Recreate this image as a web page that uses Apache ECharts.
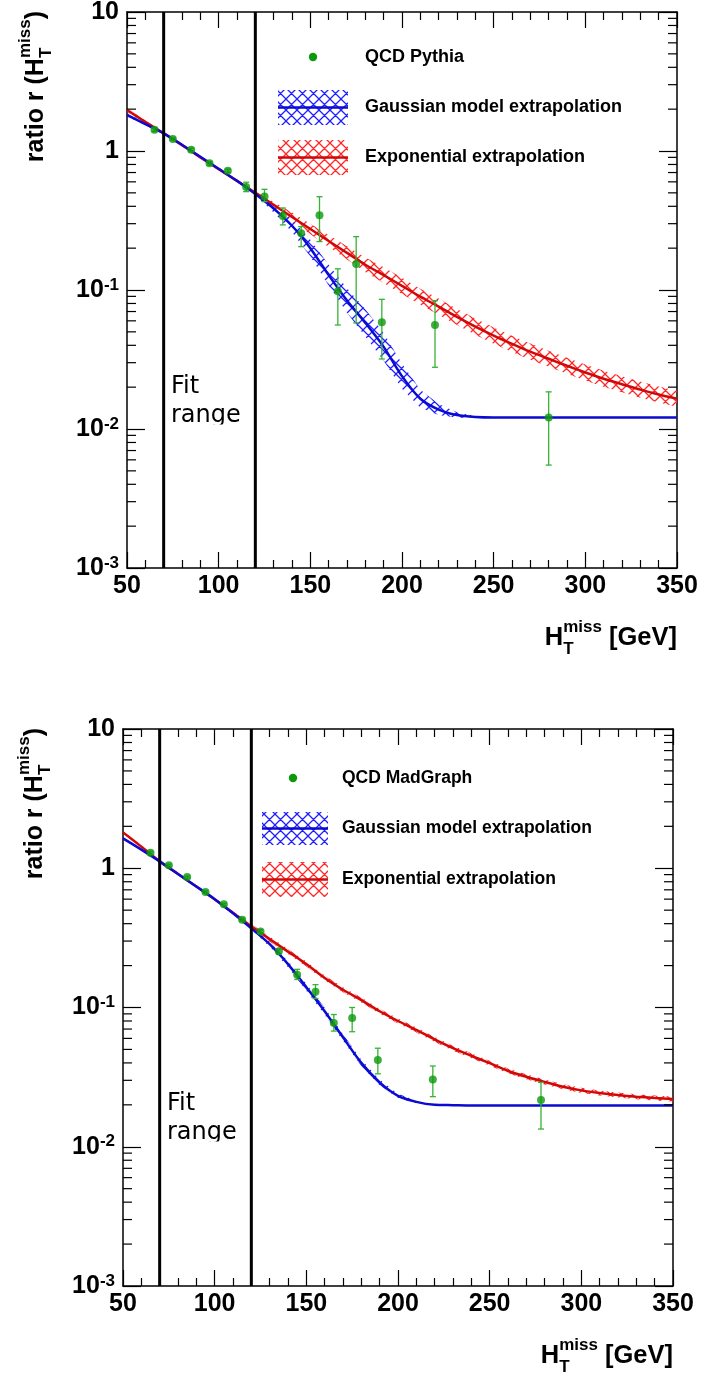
<!DOCTYPE html>
<html><head><meta charset="utf-8">
<script src="https://cdn.jsdelivr.net/npm/echarts@6/dist/echarts.min.js"></script>
<style>html,body{margin:0;padding:0;background:#fff}#c{width:701px;height:1378px}</style>
</head><body><div id="c"></div>
<script>
// ================= DATA =================
const curveX = [50,60,70,80,90,100,110,120,130,140,150,160,170,180,190,200,210,220,230,240,250,260,270,280,290,300,310,320,330,340,350];
const fitRange = [70, 120];

// ---- Panel 1: QCD Pythia ----
const pythiaX  = [65,75,85,95,105,115,125,135,145,155,165,175,189,218,280];
const pythiaY  = [1.42,1.22,1.02,0.815,0.72,0.55,0.47,0.34,0.256,0.345,0.098,0.154,0.0586,0.056,0.0121];
const pythiaLo = [1.38,1.19,0.99,0.79,0.70,0.51,0.432,0.294,0.205,0.223,0.056,0.058,0.0319,0.0278,0.0055];
const pythiaHi = [1.46,1.25,1.05,0.84,0.74,0.596,0.53,0.389,0.286,0.469,0.142,0.242,0.0857,0.0838,0.0185];
const pythiaExp = [1.97,1.62,1.34,1.10,0.90,0.74,0.61,0.50,0.41,0.335,0.275,0.225,0.185,0.152,0.128,0.107,0.0895,0.076,0.064,0.0545,0.047,0.041,0.036,0.032,0.0285,0.0255,0.023,0.021,0.0192,0.0177,0.0165];
const pythiaExpBand = [0.015,0.01,0.008,0.008,0.008,0.008,0.008,0.01,0.022,0.032,0.038,0.043,0.048,0.052,0.056,0.058,0.058,0.058,0.058,0.058,0.058,0.058,0.058,0.058,0.058,0.058,0.058,0.058,0.058,0.058,0.058];
const pythiaGaus = [1.82,1.56,1.34,1.11,0.91,0.745,0.61,0.49,0.385,0.29,0.20,0.128,0.084,0.058,0.039,0.024,0.0165,0.0138,0.0126,0.0122,0.0121,0.0121,0.0121,0.0121,0.0121,0.0121,0.0121,0.0121,0.0121,0.0121,0.0121];
const pythiaGausBand = [0.012,0.008,0.006,0.006,0.006,0.006,0.006,0.01,0.028,0.045,0.06,0.075,0.088,0.098,0.1,0.09,0.065,0.04,0.02,0.006,0,0,0,0,0,0,0,0,0,0,0];

// ---- Panel 2: QCD MadGraph ----
const madX  = [65,75,85,95,105,115,125,135,145,155,165,175,189,219,278];
const madY  = [1.29,1.05,0.866,0.675,0.551,0.427,0.352,0.253,0.172,0.130,0.0775,0.084,0.042,0.0304,0.0217];
const madLo = [1.26,1.03,0.85,0.66,0.54,0.417,0.342,0.243,0.159,0.116,0.0677,0.067,0.0334,0.0229,0.0134];
const madHi = [1.32,1.07,0.88,0.69,0.56,0.437,0.362,0.263,0.188,0.146,0.089,0.100,0.051,0.038,0.029];
const madExp = [1.81,1.43,1.12,0.91,0.74,0.60,0.48,0.383,0.31,0.252,0.205,0.163,0.134,0.113,0.094,0.080,0.069,0.059,0.051,0.045,0.0398,0.035,0.0318,0.0292,0.027,0.0254,0.0243,0.0235,0.0229,0.0224,0.0220];
const madExpBand = [0.006,0.006,0.006,0.006,0.006,0.006,0.008,0.016,0.018,0.018,0.018,0.018,0.018,0.018,0.018,0.018,0.018,0.018,0.018,0.018,0.018,0.018,0.018,0.018,0.018,0.018,0.018,0.018,0.018,0.018,0.018];
const madGaus = [1.64,1.36,1.12,0.91,0.74,0.60,0.475,0.37,0.285,0.205,0.14,0.094,0.061,0.040,0.029,0.0232,0.021,0.020,0.0199,0.0198,0.0198,0.0198,0.0198,0.0198,0.0198,0.0198,0.0198,0.0198,0.0198,0.0198,0.0198];
const madGausBand = [0.006,0.006,0.006,0.006,0.006,0.006,0.006,0.008,0.018,0.022,0.025,0.025,0.025,0.022,0.02,0.016,0.01,0,0,0,0,0,0,0,0,0,0,0,0,0,0];

const legendTop = ['QCD Pythia', 'Gaussian model extrapolation', 'Exponential extrapolation'];
const legendBot = ['QCD MadGraph', 'Gaussian model extrapolation', 'Exponential extrapolation'];

// ================= STYLE / HELPERS =================
const FONT = '"Liberation Sans", Arial, sans-serif';
const GREEN = '#0c990c', GREEN_ERR = '#36b236';
const BLUE = '#0a0ad0', BLUE_H = '#2020ff';
const RED = '#d00808', RED_H = '#ff2828';
const mctx = document.createElement('canvas').getContext('2d');
function tw(s, fs) { mctx.font = 'bold ' + fs + 'px ' + FONT; return mctx.measureText(s).width; }
function hatch(color) {
  const n = 11;
  const c = document.createElement('canvas'); c.width = n; c.height = n;
  const g = c.getContext('2d'); g.strokeStyle = color; g.lineWidth = 1.3;
  g.beginPath();
  for (let k = -1; k <= 1; k++) {
    g.moveTo(k * n, 0); g.lineTo(k * n + n, n);
    g.moveTo(k * n + n, 0); g.lineTo(k * n, n);
  }
  g.stroke();
  return { image: c, repeat: 'repeat' };
}
const minorVals = [];
for (let e = -3; e <= 0; e++) for (let m = 2; m <= 9; m++) minorVals.push(m * Math.pow(10, e));

function xAx(gi, pos, labels) {
  return { type: 'value', gridIndex: gi, position: pos, min: 50, max: 350, interval: 50,
    axisLine: { show: true, onZero: false, lineStyle: { color: '#000', width: 1.5 } },
    axisTick: { show: true, inside: true, length: 16, lineStyle: { color: '#000', width: 1.2 } },
    minorTick: { show: true, splitNumber: 5, length: 8, lineStyle: { color: '#000', width: 1.2 } },
    splitLine: { show: false }, minorSplitLine: { show: false },
    axisLabel: { show: labels, margin: 6, color: '#000', fontSize: 25, fontWeight: 'bold', fontFamily: FONT, showMinLabel: true, showMaxLabel: true }
  };
}
function yAx(gi, pos, labels) {
  return { type: 'log', logBase: 10, gridIndex: gi, position: pos, min: 0.001, max: 10,
    axisLine: { show: true, onZero: false, lineStyle: { color: '#000', width: 1.5 } },
    axisTick: { show: true, inside: true, length: 18, lineStyle: { color: '#000', width: 1.2 } },
    splitLine: { show: false },
    axisLabel: { show: labels, margin: 8, color: '#000', fontSize: 25, fontWeight: 'bold', fontFamily: FONT,
      showMinLabel: true, showMaxLabel: true,
      formatter: v => { const e = Math.round(Math.log10(v)); return e === 0 ? '1' : (e === 1 ? '10' : '10{s|' + e + '}'); },
      rich: { s: { fontSize: 17, fontWeight: 'bold', fontFamily: FONT, color: '#000', verticalAlign: 'top', padding: [0, 0, 10, 0] } } }
  };
}
function bandSeries(ai, xs, ys, hw, color, z) {
  const pts = xs.map((x, i) => [x, ys[i], hw[i]]).filter(p => p[2] > 0);
  const fill = hatch(color);
  return { type: 'custom', xAxisIndex: ai * 2, yAxisIndex: ai * 2, z, silent: true, data: pts,
    renderItem(params, api) {
      if (params.dataIndex !== 0) return;
      const up = pts.map(p => api.coord([p[0], p[1] * Math.pow(10, p[2])]));
      const lo = pts.map(p => api.coord([p[0], p[1] / Math.pow(10, p[2])])).reverse();
      return { type: 'polygon', shape: { points: up.concat(lo) }, style: { fill: fill, stroke: null } };
    } };
}
function lineSeries(ai, xs, ys, color) {
  return { type: 'line', xAxisIndex: ai * 2, yAxisIndex: ai * 2, z: 3, silent: true, data: xs.map((x, i) => [x, ys[i]]),
    symbol: 'none', smooth: 0.25, lineStyle: { color, width: 2.5 } };
}
function fitLines(ai) {
  return { type: 'custom', xAxisIndex: ai * 2, yAxisIndex: ai * 2, z: 4, silent: true, data: fitRange.map(v => [v, 1]),
    renderItem(params, api) {
      const cs = params.coordSys; const x = api.coord([api.value(0), 1])[0];
      return { type: 'line', shape: { x1: x, y1: cs.y, x2: x, y2: cs.y + cs.height }, style: { stroke: '#000', lineWidth: 3 } };
    } };
}
function errSeries(ai, xs, ys, lo, hi) {
  return { type: 'custom', xAxisIndex: ai * 2, yAxisIndex: ai * 2, z: 5, silent: true,
    data: xs.map((x, i) => [x, ys[i], lo[i], hi[i]]), encode: { x: 0, y: 1 },
    renderItem(params, api) {
      const a = api.coord([api.value(0), api.value(3)]), b = api.coord([api.value(0), api.value(2)]);
      const st = { stroke: GREEN_ERR, lineWidth: 1.3 };
      return { type: 'group', children: [
        { type: 'line', shape: { x1: a[0], y1: a[1], x2: b[0], y2: b[1] }, style: st },
        { type: 'line', shape: { x1: a[0] - 3, y1: a[1], x2: a[0] + 3, y2: a[1] }, style: st },
        { type: 'line', shape: { x1: b[0] - 3, y1: b[1], x2: b[0] + 3, y2: b[1] }, style: st } ] };
    } };
}
function pointSeries(ai, xs, ys) {
  return { type: 'scatter', xAxisIndex: ai * 2, yAxisIndex: ai * 2, z: 6, silent: true, data: xs.map((x, i) => [x, ys[i]]),
    symbol: 'circle', symbolSize: 8, itemStyle: { color: GREEN } };
}
function minorSeries(ai) {
  return { type: 'custom', xAxisIndex: ai * 2, yAxisIndex: ai * 2, z: 7, silent: true, data: minorVals.map(v => [60, v]),
    renderItem(params, api) {
      const cs = params.coordSys; const y = api.coord([60, api.value(1)])[1];
      const st = { stroke: '#000', lineWidth: 1.2 };
      return { type: 'group', children: [
        { type: 'line', shape: { x1: cs.x, y1: y, x2: cs.x + 9, y2: y }, style: st },
        { type: 'line', shape: { x1: cs.x + cs.width - 9, y1: y, x2: cs.x + cs.width, y2: y }, style: st } ] };
    } };
}
function t(s, x, y, fs, extra) {
  return { type: 'text', style: Object.assign({ text: s, x, y, font: 'bold ' + fs + 'px ' + FONT, fill: '#000',
    align: 'left', textAlign: 'left', verticalAlign: 'middle', textVerticalAlign: 'middle' }, extra || {}) };
}
function yTitle(bx, ey) {
  const fm = 25, fsb = 17;
  const wM = tw('ratio r (H', fm), wB = Math.max(tw('miss', fsb), tw('T', fsb)), wP = tw(')', fm);
  const s = -(wM + wB + wP);
  return { type: 'group', x: bx, y: ey, rotation: Math.PI / 2, children: [
    t('ratio r (H', s, -0.35 * fm, fm),
    t('miss', s + wM, -13.5 - 0.35 * fsb, fsb),
    t('T', s + wM, 7.5 - 0.35 * fsb, fsb),
    t(')', -wP, -0.35 * fm, fm) ] };
}
function xTitle(rx, by) {
  const fm = 25.5, fsb = 17;
  const wH = tw('H', fm), wB = Math.max(tw('miss', fsb), tw('T', fsb)), wS = tw(' ', fm), wG = tw('[GeV]', fm);
  const s = -(wH + wB + wS + wG);
  return { type: 'group', x: rx, y: by, children: [
    t('H', s, -0.35 * fm, fm),
    t('miss', s + wH, -13.7 - 0.35 * fsb, fsb),
    t('T', s + wH, 8 - 0.35 * fsb, fsb),
    t('[GeV]', -wG, -0.35 * fm, fm) ] };
}
function legend(names, dot, boxX, boxW, textX, rows, fs) {
  const out = [];
  out.push({ type: 'circle', shape: { cx: dot[0], cy: dot[1], r: 4.2 }, style: { fill: GREEN } });
  out.push(t(names[0], textX, dot[1], fs));
  const cols = [[BLUE_H, BLUE], [RED_H, RED]];
  rows.forEach((r, i) => {
    out.push({ type: 'rect', shape: { x: boxX, y: r[0], width: boxW, height: r[1] - r[0] }, style: { fill: hatch(cols[i][0]) } });
    const cy = (r[0] + r[1]) / 2;
    out.push({ type: 'line', shape: { x1: boxX, y1: cy, x2: boxX + boxW, y2: cy }, style: { stroke: cols[i][1], lineWidth: 2.5 } });
    out.push(t(names[i + 1], textX, cy, fs));
  });
  return out;
}
function fitText(x, b1, b2) {
  const f = '24px "DejaVu Sans", sans-serif';
  return [
    { type: 'text', style: { text: 'Fit', x, y: b1 - 8.3, font: f, fill: '#000', align: 'left', textAlign: 'left', verticalAlign: 'middle', textVerticalAlign: 'middle' } },
    { type: 'text', style: { text: 'range', x, y: b2 - 8.3, font: f, fill: '#000', align: 'left', textAlign: 'left', verticalAlign: 'middle', textVerticalAlign: 'middle' } },
    { type: 'rect', shape: { x: x - 3, y: b2 + 0.5, width: 80, height: 12 }, style: { fill: '#fff' } }
  ];
}

const chart = echarts.init(document.getElementById('c'), null, { renderer: 'canvas', width: 701, height: 1378 });
chart.setOption({
  animation: false,
  backgroundColor: '#fff',
  grid: [
    { left: 127, top: 12, width: 550, height: 556, outerBoundsMode: 'none', containLabel: false },
    { left: 123, top: 729, width: 550, height: 557, outerBoundsMode: 'none', containLabel: false }
  ],
  xAxis: [xAx(0, 'bottom', true), xAx(0, 'top', false), xAx(1, 'bottom', true), xAx(1, 'top', false)],
  yAxis: [yAx(0, 'left', true), yAx(0, 'right', false), yAx(1, 'left', true), yAx(1, 'right', false)],
  series: [
    bandSeries(0, curveX, pythiaExp, pythiaExpBand, RED_H, 1),
    bandSeries(0, curveX, pythiaGaus, pythiaGausBand, BLUE_H, 1),
    lineSeries(0, curveX, pythiaExp, RED),
    lineSeries(0, curveX, pythiaGaus, BLUE),
    fitLines(0), errSeries(0, pythiaX, pythiaY, pythiaLo, pythiaHi), pointSeries(0, pythiaX, pythiaY), minorSeries(0),
    bandSeries(1, curveX, madExp, madExpBand, RED_H, 1),
    bandSeries(1, curveX, madGaus, madGausBand, BLUE_H, 1),
    lineSeries(1, curveX, madExp, RED),
    lineSeries(1, curveX, madGaus, BLUE),
    fitLines(1), errSeries(1, madX, madY, madLo, madHi), pointSeries(1, madX, madY), minorSeries(1)
  ],
  graphic: { elements: [].concat(
    legend(legendTop, [313, 57], 278, 70, 365, [[90, 125], [140, 175]], 18),
    legend(legendBot, [293, 778], 262, 66, 342, [[812, 845], [862, 897]], 17.5),
    fitText(171, 395, 424),
    fitText(167, 1112, 1141),
    [yTitle(45, 11), yTitle(44, 728), xTitle(677, 647), xTitle(673, 1365)]
  ) }
});
</script></body></html>
